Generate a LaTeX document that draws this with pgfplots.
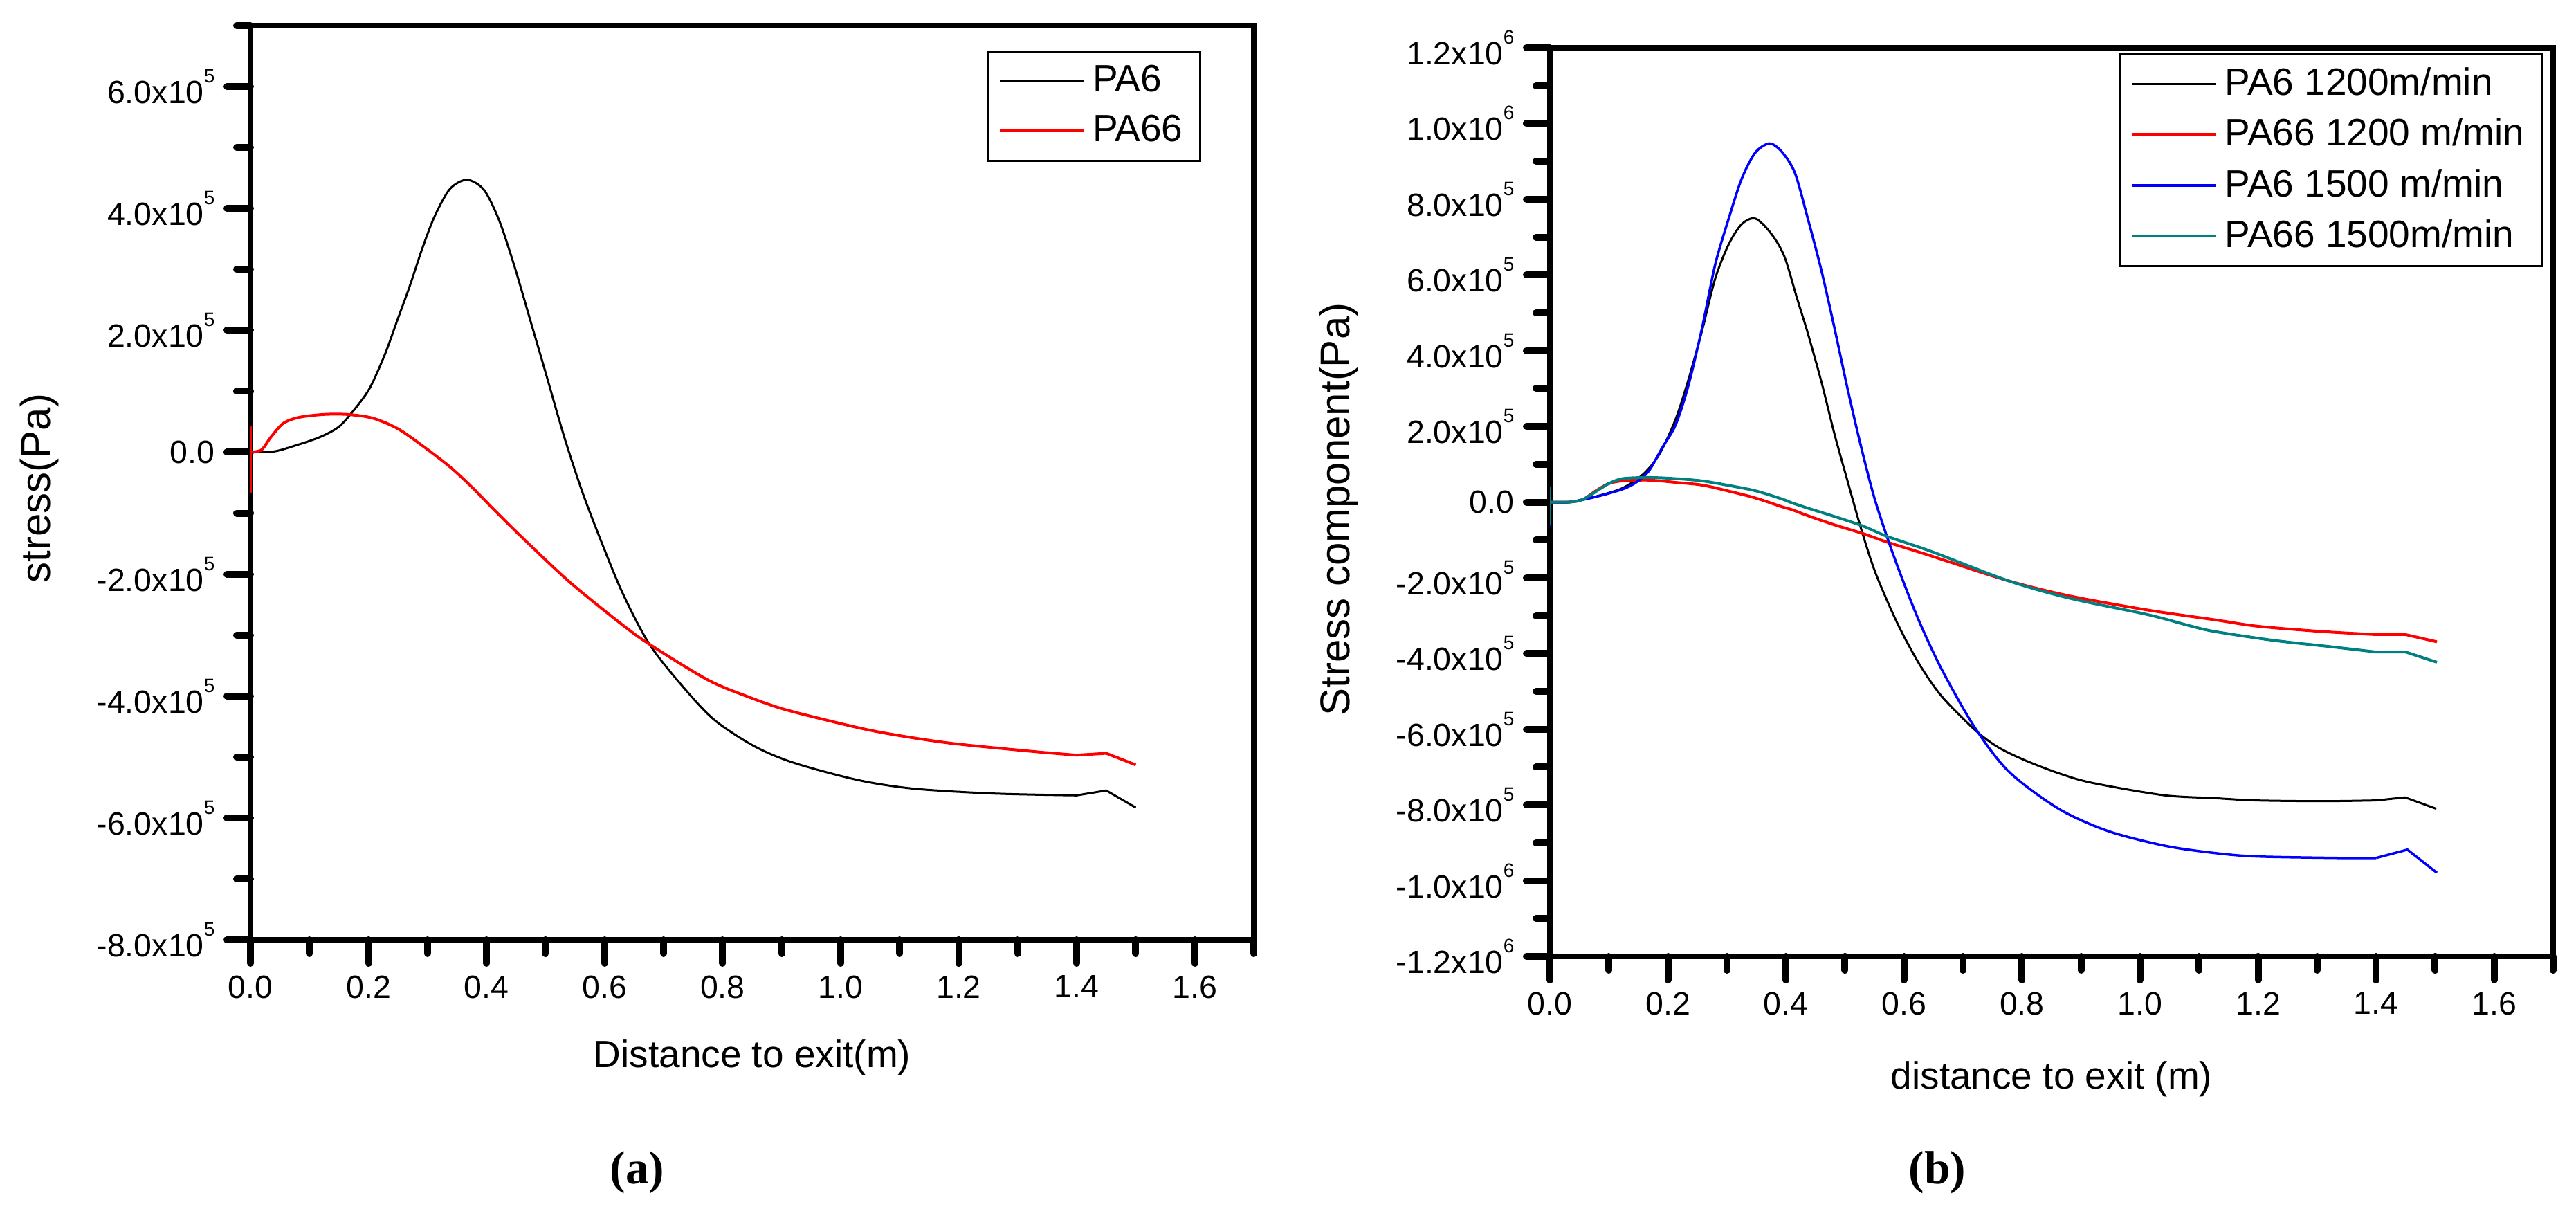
\documentclass[border=0pt]{standalone}
\usepackage{fontspec}
\setmainfont{Liberation Sans}
\newfontfamily\tnr{Liberation Serif}
\usepackage{pgfplots}
\pgfplotsset{compat=1.18}
\definecolor{oteal}{RGB}{0,128,128}
\newcommand{\sci}[2]{#1x10\raisebox{6.0pt}{\fontsize{5.6}{6}\selectfont #2}}
\pgfplotsset{
  origin/.style={
    scale only axis,
    width=290pt,
    xmin=0, xmax=1.7,
    xtick={0,0.2,0.4,0.6,0.8,1.0,1.2,1.4,1.6},
    xticklabels={0.0,0.2,0.4,0.6,0.8,1.0,1.2,1.4,1.6},
    minor xtick={0.1,0.3,0.5,0.7,0.9,1.1,1.3,1.5,1.7},
    scaled x ticks=false, scaled y ticks=false,
    axis line style={line width=1.6pt},
    tick align=outside,
    xtick pos=left, ytick pos=left,
    major tick length=6.8pt, minor tick length=4pt,
    every tick/.style={black, line width=2pt, line cap=round},
    tick label style={font=\fontsize{9.3}{11}\selectfont},
    label style={font=\fontsize{11}{13}\selectfont},
    legend cell align=left,
    legend image code/.code={\draw[##1] (0pt,0pt) -- (24.4pt,0pt);},
    legend style={draw=black, line width=0.6pt, font=\fontsize{11}{13}\selectfont,
      inner xsep=3pt, inner ysep=2pt, row sep=1.2pt},
  }
}
\begin{document}
\begin{tikzpicture}
\useasboundingbox (0,0) rectangle (744.6pt,349.2pt);
% ---------------- (a) ----------------
\begin{axis}[origin,
  at={(72.4pt,77.6pt)}, anchor=south west,
  height=264.2pt,
  ymin=-800000, ymax=700000,
  ytick={-800000,-600000,-400000,-200000,0,200000,400000,600000},
  yticklabels={{\sci{-8.0}{5}},{\sci{-6.0}{5}},{\sci{-4.0}{5}},{\sci{-2.0}{5}},{0.0},{\sci{2.0}{5}},{\sci{4.0}{5}},{\sci{6.0}{5}}},
  minor ytick={-700000,-500000,-300000,-100000,100000,300000,500000,700000},
  xlabel={Distance to exit(m)},
  ylabel={stress(Pa)},
  xlabel style={at={(axis description cs:0.5,-0.140)}, anchor=base},
  ylabel style={at={(axis description cs:-0.200,0.494)}, anchor=base, font=\fontsize{12}{14}\selectfont},
  legend style={at={(0.9476,0.9728)}, anchor=north east},
]
\addplot[black, line width=0.6pt, smooth, tension=0.5] coordinates {
(0,0) (0.04,1300) (0.076,11000) (0.118,25000) (0.15,42000) (0.176,70000)
(0.202,105000) (0.228,161000) (0.249,217000) (0.270,273000) (0.291,334000)
(0.312,387000) (0.338,432000) (0.367,447000) (0.396,430000) (0.422,379000)
(0.448,303000) (0.474,217000) (0.500,131000) (0.532,24000) (0.563,-67000)
(0.595,-148000) (0.631,-232000) (0.676,-315000) (0.733,-385000) (0.787,-440000)
(0.855,-483000) (0.922,-510000) (1.03,-538000) (1.124,-552000) (1.259,-560000)
(1.40,-563000)
};
\addlegendentry{PA6}
\addplot[red, line width=0.8pt, smooth, tension=0.5] coordinates {
(0,0) (0.0186,3900) (0.034,24000) (0.055,47000)
(0.081,57000) (0.123,62000) (0.165,62000) (0.207,56000) (0.249,39000)
(0.291,11000) (0.338,-24000) (0.375,-57000) (0.4165,-98000) (0.469,-148000)
(0.542,-214000) (0.626,-280000) (0.676,-315000) (0.774,-373000) (0.84,-400000)
(0.909,-423000) (1.03,-452000) (1.1,-465000) (1.191,-478000) (1.326,-491000)
(1.40,-497000)
};
\addlegendentry{PA66}
\addplot[black, line width=0.6pt, forget plot] coordinates {(1.40,-563000) (1.45,-555000) (1.50,-583000)};
\addplot[red, line width=0.8pt, forget plot] coordinates {(1.40,-497000) (1.45,-494000) (1.50,-513000)};
\addplot[red, line width=0.8pt, forget plot] coordinates {(0,44000) (0,-67000)};
\end{axis}
% ---------------- (b) ----------------
\begin{axis}[origin,
  at={(448pt,72.8pt)}, anchor=south west,
  height=262.6pt,
  ymin=-1200000, ymax=1200000,
  ytick={-1200000,-1000000,-800000,-600000,-400000,-200000,0,200000,400000,600000,800000,1000000,1200000},
  yticklabels={{\sci{-1.2}{6}},{\sci{-1.0}{6}},{\sci{-8.0}{5}},{\sci{-6.0}{5}},{\sci{-4.0}{5}},{\sci{-2.0}{5}},{0.0},{\sci{2.0}{5}},{\sci{4.0}{5}},{\sci{6.0}{5}},{\sci{8.0}{5}},{\sci{1.0}{6}},{\sci{1.2}{6}}},
  minor ytick={-1100000,-900000,-700000,-500000,-300000,-100000,100000,300000,500000,700000,900000,1100000},
  xlabel={distance to exit (m)},
  ylabel={Stress component(Pa)},
  xlabel style={at={(axis description cs:0.5,-0.1455)}, anchor=base},
  ylabel style={at={(axis description cs:-0.200,0.492)}, anchor=base, font=\fontsize{12}{14}\selectfont},
  legend style={at={(0.9897,0.9947)}, anchor=north east},
]
\addplot[black, line width=0.6pt, smooth, tension=0.5] coordinates {
(0,0) (0.033,0) (0.078,15000) (0.123,37000) (0.159,75000) (0.186,128000)
(0.213,219000) (0.235,325000) (0.258,454000) (0.280,590000) (0.303,681000)
(0.325,734000) (0.348,749000) (0.374,711000) (0.397,650000) (0.419,537000)
(0.437,446000) (0.460,318000) (0.482,181000) (0.505,52000) (0.527,-69000)
(0.55,-180000) (0.5775,-282000) (0.60,-355000) (0.63,-438000) (0.665,-515000)
(0.721,-603000) (0.76,-648000) (0.805,-682000) (0.86,-715000) (0.917,-741000)
(1.039,-774000) (1.127,-782000) (1.197,-788000) (1.309,-790000) (1.40,-788000)
};
\addlegendentry{PA6 1200m/min}
\addplot[red, line width=0.8pt, smooth, tension=0.5] coordinates {
(0,0) (0.033,0) (0.056,7000) (0.078,30000) (0.10,49000)
(0.123,56000) (0.168,58000) (0.213,52000) (0.258,45000) (0.303,29000)
(0.348,11000) (0.3925,-12000) (0.41,-20000) (0.437,-36000) (0.482,-60000)
(0.53,-83000) (0.572,-106000) (0.6455,-142000) (0.777,-208000) (0.881,-248000)
(1.0125,-285000) (1.127,-311000) (1.2,-328000) (1.31,-342000) (1.40,-350000)
};
\addlegendentry{PA66 1200 m/min}
\addplot[blue, line width=0.7pt, smooth, tension=0.5] coordinates {
(0,0) (0.033,0) (0.078,14000) (0.123,34000) (0.146,52000)
(0.168,83000) (0.190,143000) (0.213,204000) (0.235,310000) (0.258,461000)
(0.280,627000) (0.303,749000) (0.325,854000) (0.348,923000) (0.372,947000)
(0.3925,926000) (0.415,870000) (0.437,749000) (0.460,612000) (0.482,461000)
(0.505,295000) (0.527,148000) (0.55,10000) (0.5775,-120000) (0.605,-235000)
(0.630,-330000) (0.665,-445000) (0.719,-593000) (0.777,-711000) (0.862,-810000)
(0.946,-869000) (1.043,-908000) (1.127,-927000) (1.198,-936000) (1.337,-940000)
(1.40,-940000)
};
\addlegendentry{PA6 1500 m/min}
\addplot[oteal, line width=0.8pt, smooth, tension=0.5] coordinates {
(0,0) (0.033,0) (0.056,7000) (0.087,37000) (0.10,49000)
(0.123,62000) (0.168,65000) (0.213,62000) (0.258,56000) (0.303,44000)
(0.348,30000) (0.3925,8600) (0.41,-2000) (0.437,-16000) (0.482,-38000)
(0.53,-63000) (0.572,-91000) (0.6455,-130000) (0.777,-208000) (0.881,-254000)
(1.0125,-297000) (1.085,-327000) (1.127,-342000) (1.225,-365000) (1.323,-382000)
(1.40,-396000)
};
\addlegendentry{PA66 1500m/min}
\addplot[black, line width=0.6pt, forget plot] coordinates {(1.40,-788000) (1.449,-780000) (1.502,-810000)};
\addplot[red, line width=0.8pt, forget plot] coordinates {(1.40,-350000) (1.45,-350000) (1.503,-369000)};
\addplot[blue, line width=0.7pt, forget plot] coordinates {(1.40,-940000) (1.453,-918000) (1.503,-979000)};
\addplot[oteal, line width=0.8pt, forget plot] coordinates {(1.40,-396000) (1.45,-396000) (1.503,-423000)};
\addplot[red, line width=0.8pt, forget plot] coordinates {(0,42000) (0,-65000)};
\addplot[blue, line width=0.7pt, forget plot] coordinates {(0,42000) (0,-65000)};
\addplot[oteal, line width=0.8pt, forget plot] coordinates {(0,40000) (0,-60000)};
\end{axis}
\node[font=\tnr\bfseries\fontsize{13.5}{15}\selectfont] at (184.2pt,10.4pt) {(a)};
\node[font=\tnr\bfseries\fontsize{13.5}{15}\selectfont] at (560pt,10.4pt) {(b)};
\end{tikzpicture}
\end{document}
